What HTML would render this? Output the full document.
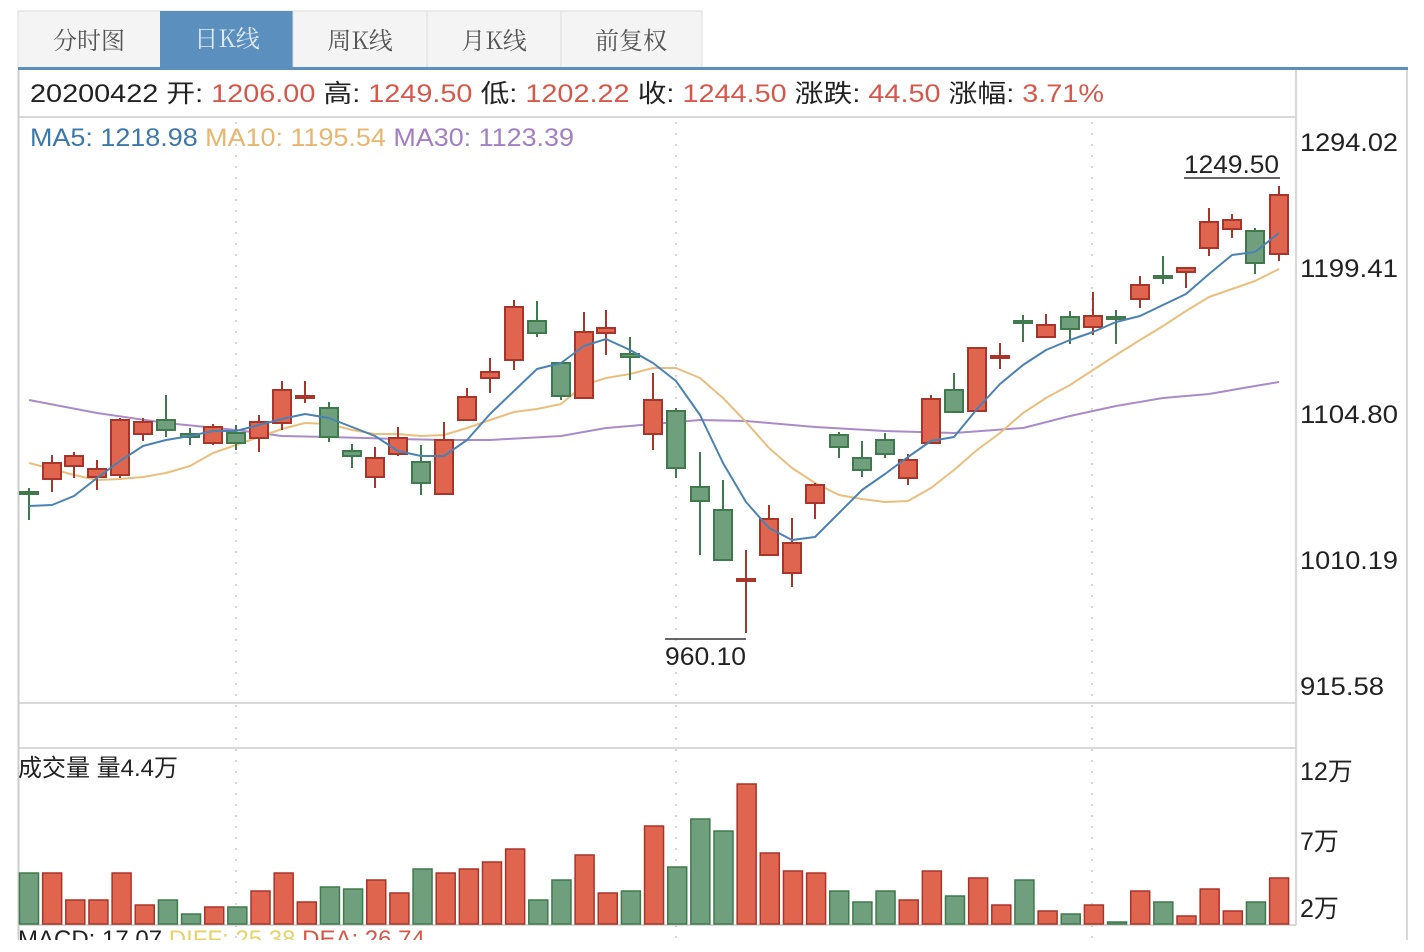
<!DOCTYPE html>
<html><head><meta charset="utf-8"><style>
html,body{margin:0;padding:0;background:#fff;width:1424px;height:952px;overflow:hidden}
svg{display:block}
text{font-family:"Liberation Sans","Noto Sans CJK SC",sans-serif}
.cn{font-family:"Noto Serif CJK SC","Liberation Serif",serif}
</style></head><body>
<svg id="s" width="1424" height="952" viewBox="0 0 1424 952" xmlns="http://www.w3.org/2000/svg">
<!-- tabs -->
<rect x="18" y="11" width="684" height="57" fill="#f4f4f4" stroke="#dcdcdc"/>
<rect x="160" y="11" width="133" height="57" fill="#5b8fbe"/>
<line x1="293" y1="11" x2="293" y2="68" stroke="#dcdcdc"/>
<line x1="427" y1="11" x2="427" y2="68" stroke="#dcdcdc"/>
<line x1="561" y1="11" x2="561" y2="68" stroke="#dcdcdc"/>
<text class="cn" x="89" y="49" font-size="24" fill="#555" text-anchor="middle">分时图</text>
<text class="cn" x="227" y="47" font-size="24" fill="#dfe9f3" text-anchor="middle">日K线</text>
<text class="cn" x="360" y="49" font-size="24" fill="#555" text-anchor="middle">周K线</text>
<text class="cn" x="494" y="49" font-size="24" fill="#555" text-anchor="middle">月K线</text>
<text class="cn" x="631" y="49" font-size="24" fill="#555" text-anchor="middle">前复权</text>
<rect x="18" y="67" width="1390" height="3" fill="#5b8fbe"/>
<!-- frame -->
<line x1="18.5" y1="70" x2="18.5" y2="940" stroke="#ccc" stroke-width="2"/>
<line x1="1407" y1="70" x2="1407" y2="940" stroke="#ccc" stroke-width="1.5"/>
<line x1="1296" y1="70" x2="1296" y2="925" stroke="#ccc" stroke-width="1.5"/>
<line x1="18" y1="117" x2="1296" y2="117" stroke="#ccc" stroke-width="1.5"/>
<line x1="18" y1="703" x2="1296" y2="703" stroke="#ccc" stroke-width="1.5"/>
<line x1="18" y1="748" x2="1296" y2="748" stroke="#ccc" stroke-width="1.5"/>
<line x1="18" y1="925" x2="1296" y2="925" stroke="#ccc" stroke-width="1.5"/>
<g stroke="#c8c8c8" stroke-width="1.5" stroke-dasharray="2 9">
<line x1="236" y1="122" x2="236" y2="940"/>
<line x1="676" y1="122" x2="676" y2="940"/>
<line x1="1092" y1="122" x2="1092" y2="940"/>
</g>
<!-- info row -->
<text y="102" font-size="25" textLength="1074" lengthAdjust="spacingAndGlyphs" x="30"><tspan fill="#222">20200422 开: </tspan><tspan fill="#d6584a">1206.00 </tspan><tspan fill="#222">高: </tspan><tspan fill="#d6584a">1249.50 </tspan><tspan fill="#222">低: </tspan><tspan fill="#d6584a">1202.22 </tspan><tspan fill="#222">收: </tspan><tspan fill="#d6584a">1244.50 </tspan><tspan fill="#222">涨跌: </tspan><tspan fill="#d6584a">44.50 </tspan><tspan fill="#222">涨幅: </tspan><tspan fill="#d6584a">3.71%</tspan></text>
<text y="146" font-size="25" x="30" textLength="544" lengthAdjust="spacingAndGlyphs"><tspan fill="#3d78ab">MA5: 1218.98 </tspan><tspan fill="#e8b66e">MA10: 1195.54 </tspan><tspan fill="#a37fc4">MA30: 1123.39</tspan></text>
<!-- axis labels -->
<g font-size="25" fill="#222">
<text x="1300" y="151" textLength="98" lengthAdjust="spacingAndGlyphs">1294.02</text>
<text x="1300" y="277" textLength="98" lengthAdjust="spacingAndGlyphs">1199.41</text>
<text x="1300" y="423" textLength="98" lengthAdjust="spacingAndGlyphs">1104.80</text>
<text x="1300" y="569" textLength="98" lengthAdjust="spacingAndGlyphs">1010.19</text>
<text x="1300" y="695" textLength="84" lengthAdjust="spacingAndGlyphs">915.58</text>
<text x="1300" y="780">12万</text>
<text x="1300" y="850">7万</text>
<text x="1300" y="917">2万</text>
<text x="1184" y="173" textLength="95" lengthAdjust="spacingAndGlyphs">1249.50</text>
<text x="665" y="665" textLength="81" lengthAdjust="spacingAndGlyphs">960.10</text>
<text x="18" y="776" font-size="24">成交量 量4.4万</text>
</g>
<line x1="1184" y1="178" x2="1280" y2="178" stroke="#333" stroke-width="1.5"/>
<line x1="665" y1="639" x2="746" y2="639" stroke="#333" stroke-width="1.5"/>
<g id="c"></g>
<svg x="0" y="928" width="1300" height="12" overflow="hidden"><text y="19" x="18" font-size="24"><tspan fill="#222">MACD: 17.07 </tspan><tspan fill="#e6d36a">DIFF: 25.38 </tspan><tspan fill="#d6584a">DEA: 26.74</tspan></text></svg>
</svg>
<script>
var R='#e0654f',RS='#a8342a',G='#6f9f7d',GS='#3e7a4c';
// [x, top, bottom, hi, lo, red?]
var K=[[29,492,494,488,520,0],[52,463,479,455,492,1],[74,456,466,452,478,1],[97,469,477,460,490,1],[120,420,475,418,478,1],[143,422,434,418,441,1],[166,420,430,395,437,0],[190,434,437,428,445,0],[213,427,443,424,445,1],[236,433,443,425,450,0],[259,422,438,415,452,1],[282,390,423,381,430,1],[305,396,398,381,403,1],[329,408,437,402,442,0],[352,451,456,444,468,0],[375,458,477,447,488,1],[398,438,454,427,456,1],[421,462,483,445,495,0],[444,440,494,422,494,1],[467,397,420,388,420,1],[490,372,378,358,393,1],[514,307,360,300,370,1],[537,321,333,301,337,0],[561,363,396,363,400,0],[584,332,398,312,398,1],[606,328,333,310,355,1],[630,354,357,337,380,0],[653,400,434,373,450,1],[676,411,468,408,478,0],[700,487,501,452,555,0],[723,510,560,480,560,0],[746,579,581,550,633,1],[769,519,555,505,555,1],[792,543,573,518,587,1],[815,485,503,483,519,1],[839,435,447,432,458,0],[862,458,470,441,477,0],[885,440,454,433,458,0],[908,460,478,454,485,1],[931,399,443,395,443,1],[954,390,412,373,412,0],[977,348,411,348,411,1],[1000,356,358,343,369,1],[1023,321,323,315,342,0],[1046,325,337,314,337,1],[1070,317,329,311,344,0],[1093,316,327,292,335,1],[1116,317,319,310,344,0],[1140,285,299,276,308,1],[1163,276,278,256,284,0],[1186,268,272,268,288,1],[1209,222,248,208,256,1],[1232,220,229,214,238,1],[1255,231,263,228,274,0],[1279,195,254,186,261,1]];
var V=[[873,0],[873,1],[900,1],[900,1],[873,1],[905,1],[900,0],[914,0],[907,1],[907,0],[891,1],[873,1],[902,1],[887,0],[889,0],[880,1],[893,1],[869,0],[873,1],[869,1],[862,1],[849,1],[900,0],[880,0],[855,1],[893,1],[891,0],[826,1],[867,0],[819,0],[831,0],[784,1],[853,1],[871,1],[873,1],[891,0],[902,0],[891,0],[900,1],[871,1],[896,0],[878,1],[905,1],[880,0],[911,1],[914,0],[905,1],[922,0],[891,1],[902,0],[916,1],[889,1],[911,1],[902,0],[878,1]];
var h='';
var ma5=[[29,506],[52,505],[74,496],[97,478],[120,461],[143,446],[166,440],[190,436],[213,431],[236,431],[259,425],[282,419],[305,414],[329,418],[352,427],[375,436],[398,451],[421,456],[444,456],[467,440],[490,414],[514,391],[537,369],[561,363],[584,346],[606,339],[630,350],[653,363],[676,381],[700,415],[723,463],[746,502],[769,528],[792,540],[815,537],[839,513],[862,490],[885,474],[908,457],[931,441],[954,437],[977,409],[1000,384],[1023,365],[1046,350],[1070,340],[1093,332],[1116,322],[1140,316],[1163,305],[1186,294],[1209,274],[1232,255],[1255,252],[1279,233]];
var ma10=[[29,463],[52,469],[74,475],[97,480],[120,479],[143,477],[166,473],[190,466],[213,453],[236,445],[259,437],[282,429],[305,423],[329,424],[352,430],[375,434],[398,434],[421,436],[444,435],[467,428],[490,420],[514,412],[537,409],[561,404],[584,385],[606,378],[630,374],[653,368],[676,368],[700,378],[723,398],[746,422],[769,448],[792,468],[815,483],[839,495],[862,499],[885,502],[908,501],[931,488],[954,470],[977,450],[1000,433],[1023,413],[1046,398],[1070,385],[1093,370],[1116,355],[1140,340],[1163,326],[1186,311],[1209,297],[1232,289],[1255,281],[1279,269]];
var ma30=[[29,400],[97,413],[166,423],[236,430],[282,436],[329,437],[398,439],[444,440],[490,440],[561,436],[606,428],[653,424],[700,420],[746,421],[815,427],[885,431],[954,433],[1023,428],[1070,416],[1116,406],[1163,398],[1209,394],[1255,386],[1279,382]];
function pl(a,c){return '<polyline fill="none" stroke="'+c+'" stroke-width="2" stroke-linejoin="round" points="'+a.map(function(p){return p.join(',')}).join(' ')+'"/>';}
h+=pl(ma30,'#a98bc9')+pl(ma10,'#eabf7e');
K.forEach(function(k){var f=k[5]?R:G,s=k[5]?RS:GS;
h+='<line x1="'+k[0]+'" y1="'+k[3]+'" x2="'+k[0]+'" y2="'+k[4]+'" stroke="'+s+'" stroke-width="2"/>';
var hh=Math.max(k[2]-k[1],2);
h+='<rect x="'+(k[0]-9)+'" y="'+k[1]+'" width="18" height="'+hh+'" fill="'+f+'" stroke="'+s+'" stroke-width="2"/>';});
h+=pl(ma5,'#4a82b4');
V.forEach(function(v,i){var x=29+23.15*i;var f=v[1]?R:G,s=v[1]?RS:GS;
h+='<rect x="'+(x-9.5)+'" y="'+v[0]+'" width="19" height="'+(924-v[0])+'" fill="'+f+'" stroke="'+s+'" stroke-width="1.5"/>';});
document.getElementById('c').innerHTML=h;
</script>
</body></html>
